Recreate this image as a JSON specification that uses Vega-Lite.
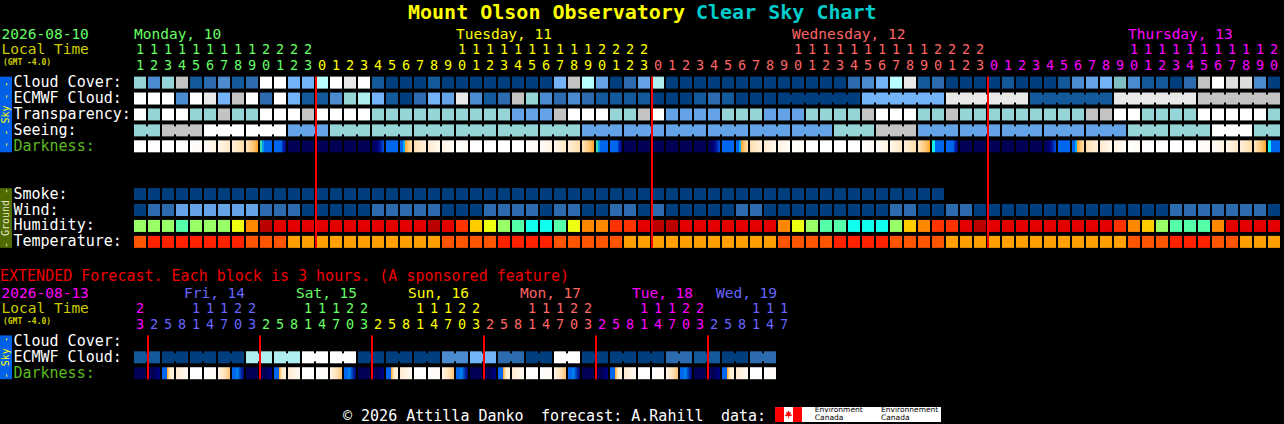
{"$schema":"https://vega.github.io/schema/vega-lite/v6.json","width":1284,"height":424,"autosize":{"type":"fit","contains":"padding"},"padding":0,"background":"#000000","config":{"view":{"stroke":null},"axis":{"disable":true},"text":{"align":"left","baseline":"middle","font":"DejaVu Sans Mono","fontSize":15,"color":"#FFFFFF","dy":1.5}},
"datasets":{"cells":[
{"row":0,"col":0,"v":"c6"},{"row":0,"col":1,"v":"c3"},{"row":0,"col":2,"v":"c6"},{"row":0,"col":3,"v":"c8"},{"row":0,"col":4,"v":"c1"},{"row":0,"col":5,"v":"c2"},{"row":0,"col":6,"v":"c3"},{"row":0,"col":7,"v":"c1"},{"row":0,"col":8,"v":"c2"},{"row":0,"col":9,"v":"W"},{"row":0,"col":10,"v":"W"},{"row":0,"col":11,"v":"c5"},{"row":0,"col":12,"v":"c5"},{"row":0,"col":13,"v":"cy"},{"row":0,"col":14,"v":"W"},{"row":0,"col":15,"v":"c9"},{"row":0,"col":16,"v":"W"},{"row":0,"col":17,"v":"c1"},{"row":0,"col":18,"v":"c0"},{"row":0,"col":19,"v":"c0"},{"row":0,"col":20,"v":"c0"},{"row":0,"col":21,"v":"c1"},{"row":0,"col":22,"v":"c0"},{"row":0,"col":23,"v":"c0"},{"row":0,"col":24,"v":"c0"},{"row":0,"col":25,"v":"c0"},{"row":0,"col":26,"v":"c0"},{"row":0,"col":27,"v":"c0"},{"row":0,"col":28,"v":"c0"},{"row":0,"col":29,"v":"c0"},{"row":0,"col":30,"v":"c5"},{"row":0,"col":31,"v":"c8"},{"row":0,"col":32,"v":"cy"},{"row":0,"col":33,"v":"c4"},{"row":0,"col":34,"v":"c0"},{"row":0,"col":35,"v":"c2"},{"row":0,"col":36,"v":"c4"},{"row":0,"col":37,"v":"c7"},{"row":0,"col":38,"v":"c0"},{"row":0,"col":39,"v":"c0"},{"row":0,"col":40,"v":"c0"},{"row":0,"col":41,"v":"c0"},{"row":0,"col":42,"v":"c0"},{"row":0,"col":43,"v":"c0"},{"row":0,"col":44,"v":"c0"},{"row":0,"col":45,"v":"c0"},{"row":0,"col":46,"v":"c0"},{"row":0,"col":47,"v":"c0"},{"row":0,"col":48,"v":"c0"},{"row":0,"col":49,"v":"c0"},{"row":0,"col":50,"v":"c0"},{"row":0,"col":51,"v":"c2"},{"row":0,"col":52,"v":"c3"},{"row":0,"col":53,"v":"c5"},{"row":0,"col":54,"v":"cy"},{"row":0,"col":55,"v":"c9"},{"row":0,"col":56,"v":"c1"},{"row":0,"col":57,"v":"c2"},{"row":0,"col":58,"v":"c0"},{"row":0,"col":59,"v":"c0"},{"row":0,"col":60,"v":"c0"},{"row":0,"col":61,"v":"c0"},{"row":0,"col":62,"v":"c1"},{"row":0,"col":63,"v":"c0"},{"row":0,"col":64,"v":"c0"},{"row":0,"col":65,"v":"c0"},{"row":0,"col":66,"v":"c1"},{"row":0,"col":67,"v":"c3"},{"row":0,"col":68,"v":"c4"},{"row":0,"col":69,"v":"c5"},{"row":0,"col":70,"v":"dt"},{"row":0,"col":71,"v":"c3"},{"row":0,"col":72,"v":"c1"},{"row":0,"col":73,"v":"c1"},{"row":0,"col":74,"v":"c0"},{"row":0,"col":75,"v":"c2"},{"row":0,"col":76,"v":"c8"},{"row":0,"col":77,"v":"W"},{"row":0,"col":78,"v":"g9"},{"row":0,"col":79,"v":"g9"},{"row":0,"col":80,"v":"c3"},{"row":0,"col":81,"v":"c0"},
{"row":1,"col":0,"v":"W"},{"row":1,"col":1,"v":"W"},{"row":1,"col":2,"v":"W"},{"row":1,"col":3,"v":"c3"},{"row":1,"col":4,"v":"W"},{"row":1,"col":5,"v":"c9"},{"row":1,"col":6,"v":"c5"},{"row":1,"col":7,"v":"c8"},{"row":1,"col":8,"v":"W"},{"row":1,"col":9,"v":"c2"},{"row":1,"col":10,"v":"W"},{"row":1,"col":11,"v":"c5"},{"row":1,"col":12,"v":"c1"},{"row":1,"col":13,"v":"c1"},{"row":1,"col":14,"v":"c3"},{"row":1,"col":15,"v":"c6"},{"row":1,"col":16,"v":"c7"},{"row":1,"col":17,"v":"c5"},{"row":1,"col":18,"v":"c1"},{"row":1,"col":19,"v":"c0"},{"row":1,"col":20,"v":"c2"},{"row":1,"col":21,"v":"c5"},{"row":1,"col":22,"v":"c4"},{"row":1,"col":23,"v":"c9"},{"row":1,"col":24,"v":"c3"},{"row":1,"col":25,"v":"c1"},{"row":1,"col":26,"v":"c2"},{"row":1,"col":27,"v":"c8"},{"row":1,"col":28,"v":"c6"},{"row":1,"col":29,"v":"c3"},{"row":1,"col":30,"v":"c2"},{"row":1,"col":31,"v":"c3"},{"row":1,"col":32,"v":"c2"},{"row":1,"col":33,"v":"c1"},{"row":1,"col":34,"v":"c1"},{"row":1,"col":35,"v":"c1"},{"row":1,"col":36,"v":"c1"},{"row":1,"col":37,"v":"c0"},{"row":1,"col":38,"v":"c0"},{"row":1,"col":39,"v":"c0"},{"row":1,"col":40,"v":"c1"},{"row":1,"col":41,"v":"c2"},{"row":1,"col":42,"v":"c1"},{"row":1,"col":43,"v":"c0"},{"row":1,"col":44,"v":"c0"},{"row":1,"col":45,"v":"c0"},
{"row":1,"col":46,"v":"c0","link":1},{"row":1,"col":47,"v":"c0","link":1},{"row":1,"col":48,"v":"c0","link":1},{"row":1,"col":49,"v":"c0","link":1},{"row":1,"col":50,"v":"c0","link":1},{"row":1,"col":51,"v":"c0"},{"row":1,"col":52,"v":"c5","link":1},{"row":1,"col":53,"v":"c5","link":1},{"row":1,"col":54,"v":"c5","link":1},{"row":1,"col":55,"v":"c5","link":1},{"row":1,"col":56,"v":"c5","link":1},{"row":1,"col":57,"v":"c5"},{"row":1,"col":58,"v":"c9","link":1},{"row":1,"col":59,"v":"c9","link":1},{"row":1,"col":60,"v":"c9","link":1},{"row":1,"col":61,"v":"c9","link":1},{"row":1,"col":62,"v":"c9","link":1},{"row":1,"col":63,"v":"c9"},{"row":1,"col":64,"v":"c1","link":1},{"row":1,"col":65,"v":"c1","link":1},{"row":1,"col":66,"v":"c1","link":1},{"row":1,"col":67,"v":"c1","link":1},{"row":1,"col":68,"v":"c1","link":1},{"row":1,"col":69,"v":"c1"},{"row":1,"col":70,"v":"c9","link":1},{"row":1,"col":71,"v":"c9","link":1},{"row":1,"col":72,"v":"c9","link":1},{"row":1,"col":73,"v":"c9","link":1},{"row":1,"col":74,"v":"c9","link":1},{"row":1,"col":75,"v":"c9"},{"row":1,"col":76,"v":"c8","link":1},{"row":1,"col":77,"v":"c8","link":1},{"row":1,"col":78,"v":"c8","link":1},{"row":1,"col":79,"v":"c8","link":1},{"row":1,"col":80,"v":"c8","link":1},{"row":1,"col":81,"v":"c8"},
{"row":2,"col":0,"v":"W"},{"row":2,"col":1,"v":"c6"},{"row":2,"col":2,"v":"W"},{"row":2,"col":3,"v":"W"},{"row":2,"col":4,"v":"c6"},{"row":2,"col":5,"v":"c6"},{"row":2,"col":6,"v":"c8"},{"row":2,"col":7,"v":"c6"},{"row":2,"col":8,"v":"c6"},{"row":2,"col":9,"v":"W"},{"row":2,"col":10,"v":"W"},{"row":2,"col":11,"v":"W"},{"row":2,"col":12,"v":"c8"},{"row":2,"col":13,"v":"W"},{"row":2,"col":14,"v":"W"},{"row":2,"col":15,"v":"W"},{"row":2,"col":16,"v":"W"},{"row":2,"col":17,"v":"c6"},{"row":2,"col":18,"v":"c6"},{"row":2,"col":19,"v":"c6"},{"row":2,"col":20,"v":"c6"},{"row":2,"col":21,"v":"c6"},{"row":2,"col":22,"v":"c6"},{"row":2,"col":23,"v":"c6"},{"row":2,"col":24,"v":"c6"},{"row":2,"col":25,"v":"c6"},{"row":2,"col":26,"v":"c6"},{"row":2,"col":27,"v":"c4"},{"row":2,"col":28,"v":"c4"},{"row":2,"col":29,"v":"c4"},{"row":2,"col":30,"v":"c8"},{"row":2,"col":31,"v":"W"},{"row":2,"col":32,"v":"W"},{"row":2,"col":33,"v":"W"},{"row":2,"col":34,"v":"c6"},{"row":2,"col":35,"v":"c6"},{"row":2,"col":36,"v":"c8"},{"row":2,"col":37,"v":"W"},{"row":2,"col":38,"v":"c4"},{"row":2,"col":39,"v":"c4"},{"row":2,"col":40,"v":"c4"},{"row":2,"col":41,"v":"c4"},{"row":2,"col":42,"v":"c6"},{"row":2,"col":43,"v":"c6"},{"row":2,"col":44,"v":"c6"},{"row":2,"col":45,"v":"c4"},{"row":2,"col":46,"v":"c4"},{"row":2,"col":47,"v":"c4"},{"row":2,"col":48,"v":"c6"},{"row":2,"col":49,"v":"c6"},{"row":2,"col":50,"v":"c6"},{"row":2,"col":51,"v":"c6"},{"row":2,"col":52,"v":"c8"},{"row":2,"col":53,"v":"W"},{"row":2,"col":54,"v":"W"},{"row":2,"col":55,"v":"W"},{"row":2,"col":56,"v":"c6"},{"row":2,"col":57,"v":"c6"},{"row":2,"col":58,"v":"c8"},{"row":2,"col":59,"v":"c6"},{"row":2,"col":60,"v":"c6"},{"row":2,"col":61,"v":"c6"},{"row":2,"col":62,"v":"c6"},{"row":2,"col":63,"v":"c6"},{"row":2,"col":64,"v":"c6"},{"row":2,"col":65,"v":"c6"},{"row":2,"col":66,"v":"c6"},{"row":2,"col":67,"v":"c6"},{"row":2,"col":68,"v":"c8"},{"row":2,"col":69,"v":"c8"},{"row":2,"col":70,"v":"W"},{"row":2,"col":71,"v":"W"},{"row":2,"col":72,"v":"c6"},{"row":2,"col":73,"v":"c6"},{"row":2,"col":74,"v":"c6"},{"row":2,"col":75,"v":"c6"},{"row":2,"col":76,"v":"W"},{"row":2,"col":77,"v":"W"},{"row":2,"col":78,"v":"W"},{"row":2,"col":79,"v":"W"},{"row":2,"col":80,"v":"W"},{"row":2,"col":81,"v":"c6"},
{"row":3,"col":0,"v":"c6","link":1},{"row":3,"col":1,"v":"c6"},{"row":3,"col":2,"v":"c8","link":1},{"row":3,"col":3,"v":"c8","link":1},{"row":3,"col":4,"v":"c8"},{"row":3,"col":5,"v":"W","link":1},{"row":3,"col":6,"v":"W","link":1},{"row":3,"col":7,"v":"W"},{"row":3,"col":8,"v":"W","link":1},{"row":3,"col":9,"v":"W","link":1},{"row":3,"col":10,"v":"W"},{"row":3,"col":11,"v":"c4","link":1},{"row":3,"col":12,"v":"c4","link":1},{"row":3,"col":13,"v":"c4"},{"row":3,"col":14,"v":"c6","link":1},{"row":3,"col":15,"v":"c6","link":1},{"row":3,"col":16,"v":"c6"},{"row":3,"col":17,"v":"c6","link":1},{"row":3,"col":18,"v":"c6","link":1},{"row":3,"col":19,"v":"c6"},{"row":3,"col":20,"v":"c6","link":1},{"row":3,"col":21,"v":"c6","link":1},{"row":3,"col":22,"v":"c6"},{"row":3,"col":23,"v":"c6","link":1},{"row":3,"col":24,"v":"c6","link":1},{"row":3,"col":25,"v":"c6"},{"row":3,"col":26,"v":"c6","link":1},{"row":3,"col":27,"v":"c6","link":1},{"row":3,"col":28,"v":"c6"},{"row":3,"col":29,"v":"c6","link":1},{"row":3,"col":30,"v":"c6","link":1},{"row":3,"col":31,"v":"c6"},{"row":3,"col":32,"v":"c4","link":1},{"row":3,"col":33,"v":"c4","link":1},{"row":3,"col":34,"v":"c4"},{"row":3,"col":35,"v":"c4","link":1},{"row":3,"col":36,"v":"c4","link":1},{"row":3,"col":37,"v":"c4"},{"row":3,"col":38,"v":"c4","link":1},{"row":3,"col":39,"v":"c4","link":1},{"row":3,"col":40,"v":"c4"},{"row":3,"col":41,"v":"c4","link":1},{"row":3,"col":42,"v":"c4","link":1},{"row":3,"col":43,"v":"c4"},{"row":3,"col":44,"v":"c4","link":1},{"row":3,"col":45,"v":"c4","link":1},{"row":3,"col":46,"v":"c4"},{"row":3,"col":47,"v":"c4","link":1},{"row":3,"col":48,"v":"c4","link":1},{"row":3,"col":49,"v":"c4"},{"row":3,"col":50,"v":"c6","link":1},{"row":3,"col":51,"v":"c6","link":1},{"row":3,"col":52,"v":"c6"},{"row":3,"col":53,"v":"c8","link":1},{"row":3,"col":54,"v":"c8","link":1},{"row":3,"col":55,"v":"c8"},{"row":3,"col":56,"v":"c4","link":1},{"row":3,"col":57,"v":"c4","link":1},{"row":3,"col":58,"v":"c4"},{"row":3,"col":59,"v":"c4","link":1},{"row":3,"col":60,"v":"c4","link":1},{"row":3,"col":61,"v":"c4"},{"row":3,"col":62,"v":"c4","link":1},{"row":3,"col":63,"v":"c4","link":1},{"row":3,"col":64,"v":"c4"},{"row":3,"col":65,"v":"c4","link":1},{"row":3,"col":66,"v":"c4","link":1},{"row":3,"col":67,"v":"c4"},{"row":3,"col":68,"v":"c4","link":1},{"row":3,"col":69,"v":"c4","link":1},{"row":3,"col":70,"v":"c4"},{"row":3,"col":71,"v":"c6","link":1},{"row":3,"col":72,"v":"c6","link":1},{"row":3,"col":73,"v":"c6"},{"row":3,"col":74,"v":"c6","link":1},{"row":3,"col":75,"v":"c6","link":1},{"row":3,"col":76,"v":"c6"},{"row":3,"col":77,"v":"W","link":1},{"row":3,"col":78,"v":"W","link":1},{"row":3,"col":79,"v":"W"},{"row":3,"col":80,"v":"c6","link":1},{"row":3,"col":81,"v":"c6"},
{"row":4,"col":0,"v":"W"},{"row":4,"col":1,"v":"W"},{"row":4,"col":2,"v":"W"},{"row":4,"col":3,"v":"W"},{"row":4,"col":4,"v":"dF"},{"row":4,"col":5,"v":"d1"},{"row":4,"col":6,"v":"d2"},{"row":4,"col":7,"v":"d3"},{"row":4,"col":8,"v":"d4"},{"row":4,"col":9,"v":"de1"},{"row":4,"col":10,"v":"dbn"},{"row":4,"col":11,"v":"dn"},{"row":4,"col":12,"v":"dn"},{"row":4,"col":13,"v":"dn"},{"row":4,"col":14,"v":"dn"},{"row":4,"col":15,"v":"dn"},{"row":4,"col":16,"v":"dn"},{"row":4,"col":17,"v":"dm"},{"row":4,"col":18,"v":"db"},{"row":4,"col":19,"v":"da"},{"row":4,"col":20,"v":"r3"},{"row":4,"col":21,"v":"r2"},{"row":4,"col":22,"v":"r1"},{"row":4,"col":23,"v":"dF"},{"row":4,"col":24,"v":"W"},{"row":4,"col":25,"v":"W"},{"row":4,"col":26,"v":"W"},{"row":4,"col":27,"v":"W"},{"row":4,"col":28,"v":"dF"},{"row":4,"col":29,"v":"d1"},{"row":4,"col":30,"v":"d2"},{"row":4,"col":31,"v":"d3"},{"row":4,"col":32,"v":"d4"},{"row":4,"col":33,"v":"de1"},{"row":4,"col":34,"v":"dbn"},{"row":4,"col":35,"v":"dn"},{"row":4,"col":36,"v":"dn"},{"row":4,"col":37,"v":"dn"},{"row":4,"col":38,"v":"dn"},{"row":4,"col":39,"v":"dn"},{"row":4,"col":40,"v":"dn"},{"row":4,"col":41,"v":"dm"},{"row":4,"col":42,"v":"db"},{"row":4,"col":43,"v":"da"},{"row":4,"col":44,"v":"r3"},{"row":4,"col":45,"v":"r2"},{"row":4,"col":46,"v":"r1"},{"row":4,"col":47,"v":"dF"},{"row":4,"col":48,"v":"W"},{"row":4,"col":49,"v":"W"},{"row":4,"col":50,"v":"W"},{"row":4,"col":51,"v":"W"},{"row":4,"col":52,"v":"dF"},{"row":4,"col":53,"v":"d1"},{"row":4,"col":54,"v":"d2"},{"row":4,"col":55,"v":"d3"},{"row":4,"col":56,"v":"d4"},{"row":4,"col":57,"v":"de2"},{"row":4,"col":58,"v":"dbn"},{"row":4,"col":59,"v":"dn"},{"row":4,"col":60,"v":"dn"},{"row":4,"col":61,"v":"dn"},{"row":4,"col":62,"v":"dn"},{"row":4,"col":63,"v":"dn"},{"row":4,"col":64,"v":"dn"},{"row":4,"col":65,"v":"dm"},{"row":4,"col":66,"v":"db"},{"row":4,"col":67,"v":"da"},{"row":4,"col":68,"v":"r3"},{"row":4,"col":69,"v":"r2"},{"row":4,"col":70,"v":"r1"},{"row":4,"col":71,"v":"dF"},{"row":4,"col":72,"v":"W"},{"row":4,"col":73,"v":"W"},{"row":4,"col":74,"v":"W"},{"row":4,"col":75,"v":"W"},{"row":4,"col":76,"v":"dF"},{"row":4,"col":77,"v":"d1"},{"row":4,"col":78,"v":"d2"},{"row":4,"col":79,"v":"d3"},{"row":4,"col":80,"v":"d4"},{"row":4,"col":81,"v":"de2"},
{"row":7,"col":0,"v":"c0"},{"row":7,"col":1,"v":"c0"},{"row":7,"col":2,"v":"c0"},{"row":7,"col":3,"v":"c0"},{"row":7,"col":4,"v":"c0"},{"row":7,"col":5,"v":"c0"},{"row":7,"col":6,"v":"c0"},{"row":7,"col":7,"v":"c0"},{"row":7,"col":8,"v":"c0"},{"row":7,"col":9,"v":"c0"},{"row":7,"col":10,"v":"c0"},{"row":7,"col":11,"v":"c0"},{"row":7,"col":12,"v":"c0"},{"row":7,"col":13,"v":"c0"},{"row":7,"col":14,"v":"c0"},{"row":7,"col":15,"v":"c0"},{"row":7,"col":16,"v":"c0"},{"row":7,"col":17,"v":"c0"},{"row":7,"col":18,"v":"c0"},{"row":7,"col":19,"v":"c0"},{"row":7,"col":20,"v":"c0"},{"row":7,"col":21,"v":"c0"},{"row":7,"col":22,"v":"c0"},{"row":7,"col":23,"v":"c0"},{"row":7,"col":24,"v":"c0"},{"row":7,"col":25,"v":"c0"},{"row":7,"col":26,"v":"c0"},{"row":7,"col":27,"v":"c0"},{"row":7,"col":28,"v":"c0"},{"row":7,"col":29,"v":"c0"},{"row":7,"col":30,"v":"c0"},{"row":7,"col":31,"v":"c0"},{"row":7,"col":32,"v":"c0"},{"row":7,"col":33,"v":"c0"},{"row":7,"col":34,"v":"c0"},{"row":7,"col":35,"v":"c0"},{"row":7,"col":36,"v":"c0"},{"row":7,"col":37,"v":"c0"},{"row":7,"col":38,"v":"c0"},{"row":7,"col":39,"v":"c0"},{"row":7,"col":40,"v":"c0"},{"row":7,"col":41,"v":"c0"},{"row":7,"col":42,"v":"c0"},{"row":7,"col":43,"v":"c0"},{"row":7,"col":44,"v":"c0"},{"row":7,"col":45,"v":"c0"},{"row":7,"col":46,"v":"c0"},{"row":7,"col":47,"v":"c0"},{"row":7,"col":48,"v":"c0"},{"row":7,"col":49,"v":"c0"},{"row":7,"col":50,"v":"c0"},{"row":7,"col":51,"v":"c0"},{"row":7,"col":52,"v":"c0"},{"row":7,"col":53,"v":"c0"},{"row":7,"col":54,"v":"c0"},{"row":7,"col":55,"v":"c0"},{"row":7,"col":56,"v":"c0"},{"row":7,"col":57,"v":"c0"},
{"row":8,"col":0,"v":"c0"},{"row":8,"col":1,"v":"c2"},{"row":8,"col":2,"v":"c2"},{"row":8,"col":3,"v":"c4"},{"row":8,"col":4,"v":"c4"},{"row":8,"col":5,"v":"c4"},{"row":8,"col":6,"v":"c4"},{"row":8,"col":7,"v":"c4"},{"row":8,"col":8,"v":"c4"},{"row":8,"col":9,"v":"c2"},{"row":8,"col":10,"v":"c2"},{"row":8,"col":11,"v":"c2"},{"row":8,"col":12,"v":"c0"},{"row":8,"col":13,"v":"c0"},{"row":8,"col":14,"v":"c0"},{"row":8,"col":15,"v":"c0"},{"row":8,"col":16,"v":"c0"},{"row":8,"col":17,"v":"c2"},{"row":8,"col":18,"v":"c2"},{"row":8,"col":19,"v":"c2"},{"row":8,"col":20,"v":"c2"},{"row":8,"col":21,"v":"c2"},{"row":8,"col":22,"v":"c0"},{"row":8,"col":23,"v":"c0"},{"row":8,"col":24,"v":"c0"},{"row":8,"col":25,"v":"c2"},{"row":8,"col":26,"v":"c2"},{"row":8,"col":27,"v":"c2"},{"row":8,"col":28,"v":"c2"},{"row":8,"col":29,"v":"c0"},{"row":8,"col":30,"v":"c2"},{"row":8,"col":31,"v":"c2"},{"row":8,"col":32,"v":"c0"},{"row":8,"col":33,"v":"c0"},{"row":8,"col":34,"v":"c2"},{"row":8,"col":35,"v":"c2"},{"row":8,"col":36,"v":"c0"},{"row":8,"col":37,"v":"c2"},{"row":8,"col":38,"v":"c0"},{"row":8,"col":39,"v":"c0"},{"row":8,"col":40,"v":"c0"},{"row":8,"col":41,"v":"c0"},{"row":8,"col":42,"v":"c0"},{"row":8,"col":43,"v":"c2"},{"row":8,"col":44,"v":"c2"},{"row":8,"col":45,"v":"c0"},{"row":8,"col":46,"v":"c0"},{"row":8,"col":47,"v":"c0"},{"row":8,"col":48,"v":"c0"},{"row":8,"col":49,"v":"c0"},{"row":8,"col":50,"v":"c0"},{"row":8,"col":51,"v":"c0"},{"row":8,"col":52,"v":"c0"},{"row":8,"col":53,"v":"c0"},{"row":8,"col":54,"v":"c2"},{"row":8,"col":55,"v":"c2"},{"row":8,"col":56,"v":"c0"},{"row":8,"col":57,"v":"c0"},{"row":8,"col":58,"v":"c2"},{"row":8,"col":59,"v":"c2"},{"row":8,"col":60,"v":"c0"},{"row":8,"col":61,"v":"c0"},{"row":8,"col":62,"v":"c0"},{"row":8,"col":63,"v":"c0"},{"row":8,"col":64,"v":"c0"},{"row":8,"col":65,"v":"c0"},{"row":8,"col":66,"v":"c0"},{"row":8,"col":67,"v":"c0"},{"row":8,"col":68,"v":"c0"},{"row":8,"col":69,"v":"c0"},{"row":8,"col":70,"v":"c0"},{"row":8,"col":71,"v":"c0"},{"row":8,"col":72,"v":"c0"},{"row":8,"col":73,"v":"c0"},{"row":8,"col":74,"v":"c2"},{"row":8,"col":75,"v":"c2"},{"row":8,"col":76,"v":"c2"},{"row":8,"col":77,"v":"c2"},{"row":8,"col":78,"v":"c2"},{"row":8,"col":79,"v":"c2"},{"row":8,"col":80,"v":"c2"},{"row":8,"col":81,"v":"c0"},
{"row":9,"col":0,"v":"hg"},{"row":9,"col":1,"v":"hg"},{"row":9,"col":2,"v":"hg"},{"row":9,"col":3,"v":"hm"},{"row":9,"col":4,"v":"hg"},{"row":9,"col":5,"v":"hg"},{"row":9,"col":6,"v":"hg"},{"row":9,"col":7,"v":"hy"},{"row":9,"col":8,"v":"ho"},{"row":9,"col":9,"v":"hd"},{"row":9,"col":10,"v":"hr"},{"row":9,"col":11,"v":"hr"},{"row":9,"col":12,"v":"hr"},{"row":9,"col":13,"v":"hr"},{"row":9,"col":14,"v":"hr"},{"row":9,"col":15,"v":"hr"},{"row":9,"col":16,"v":"hr"},{"row":9,"col":17,"v":"hr"},{"row":9,"col":18,"v":"hr"},{"row":9,"col":19,"v":"hr"},{"row":9,"col":20,"v":"hr"},{"row":9,"col":21,"v":"hd"},{"row":9,"col":22,"v":"hr"},{"row":9,"col":23,"v":"hf"},{"row":9,"col":24,"v":"ha"},{"row":9,"col":25,"v":"hy"},{"row":9,"col":26,"v":"hg"},{"row":9,"col":27,"v":"hm"},{"row":9,"col":28,"v":"hc"},{"row":9,"col":29,"v":"hc"},{"row":9,"col":30,"v":"hm"},{"row":9,"col":31,"v":"hy"},{"row":9,"col":32,"v":"ho"},{"row":9,"col":33,"v":"ho"},{"row":9,"col":34,"v":"hf"},{"row":9,"col":35,"v":"hf"},{"row":9,"col":36,"v":"hr"},{"row":9,"col":37,"v":"hd"},{"row":9,"col":38,"v":"hd"},{"row":9,"col":39,"v":"hr"},{"row":9,"col":40,"v":"hr"},{"row":9,"col":41,"v":"hr"},{"row":9,"col":42,"v":"hr"},{"row":9,"col":43,"v":"hr"},{"row":9,"col":44,"v":"hr"},{"row":9,"col":45,"v":"hr"},{"row":9,"col":46,"v":"ho"},{"row":9,"col":47,"v":"hy"},{"row":9,"col":48,"v":"hg"},{"row":9,"col":49,"v":"hm"},{"row":9,"col":50,"v":"hm"},{"row":9,"col":51,"v":"hc"},{"row":9,"col":52,"v":"hc"},{"row":9,"col":53,"v":"hc"},{"row":9,"col":54,"v":"hg"},{"row":9,"col":55,"v":"ha"},{"row":9,"col":56,"v":"ho"},{"row":9,"col":57,"v":"hf"},{"row":9,"col":58,"v":"hf"},{"row":9,"col":59,"v":"hr"},{"row":9,"col":60,"v":"hd"},{"row":9,"col":61,"v":"hr"},{"row":9,"col":62,"v":"hr"},{"row":9,"col":63,"v":"hr"},{"row":9,"col":64,"v":"hr"},{"row":9,"col":65,"v":"hr"},{"row":9,"col":66,"v":"hr"},{"row":9,"col":67,"v":"hr"},{"row":9,"col":68,"v":"hr"},{"row":9,"col":69,"v":"hr"},{"row":9,"col":70,"v":"hf"},{"row":9,"col":71,"v":"ho"},{"row":9,"col":72,"v":"ha"},{"row":9,"col":73,"v":"hg"},{"row":9,"col":74,"v":"hm"},{"row":9,"col":75,"v":"hm"},{"row":9,"col":76,"v":"hm"},{"row":9,"col":77,"v":"ho"},{"row":9,"col":78,"v":"hr"},{"row":9,"col":79,"v":"hr"},{"row":9,"col":80,"v":"hr"},{"row":9,"col":81,"v":"hr"},
{"row":10,"col":0,"v":"T1"},{"row":10,"col":1,"v":"T2"},{"row":10,"col":2,"v":"T2"},{"row":10,"col":3,"v":"T2"},{"row":10,"col":4,"v":"T2"},{"row":10,"col":5,"v":"T2"},{"row":10,"col":6,"v":"T2"},{"row":10,"col":7,"v":"T2"},{"row":10,"col":8,"v":"T1"},{"row":10,"col":9,"v":"T1"},{"row":10,"col":10,"v":"T1"},{"row":10,"col":11,"v":"T3"},{"row":10,"col":12,"v":"T3"},{"row":10,"col":13,"v":"T3"},{"row":10,"col":14,"v":"T3"},{"row":10,"col":15,"v":"T3"},{"row":10,"col":16,"v":"T3"},{"row":10,"col":17,"v":"T3"},{"row":10,"col":18,"v":"T3"},{"row":10,"col":19,"v":"T3"},{"row":10,"col":20,"v":"T3"},{"row":10,"col":21,"v":"T3"},{"row":10,"col":22,"v":"T1"},{"row":10,"col":23,"v":"T1"},{"row":10,"col":24,"v":"T1"},{"row":10,"col":25,"v":"T1"},{"row":10,"col":26,"v":"T2"},{"row":10,"col":27,"v":"T2"},{"row":10,"col":28,"v":"T2"},{"row":10,"col":29,"v":"T2"},{"row":10,"col":30,"v":"T1"},{"row":10,"col":31,"v":"T1"},{"row":10,"col":32,"v":"T1"},{"row":10,"col":33,"v":"T1"},{"row":10,"col":34,"v":"T1"},{"row":10,"col":35,"v":"T3"},{"row":10,"col":36,"v":"T3"},{"row":10,"col":37,"v":"T3"},{"row":10,"col":38,"v":"T3"},{"row":10,"col":39,"v":"T3"},{"row":10,"col":40,"v":"T3"},{"row":10,"col":41,"v":"T3"},{"row":10,"col":42,"v":"T3"},{"row":10,"col":43,"v":"T3"},{"row":10,"col":44,"v":"T3"},{"row":10,"col":45,"v":"T3"},{"row":10,"col":46,"v":"T1"},{"row":10,"col":47,"v":"T1"},{"row":10,"col":48,"v":"T1"},{"row":10,"col":49,"v":"T1"},{"row":10,"col":50,"v":"T2"},{"row":10,"col":51,"v":"T2"},{"row":10,"col":52,"v":"T2"},{"row":10,"col":53,"v":"T2"},{"row":10,"col":54,"v":"T1"},{"row":10,"col":55,"v":"T1"},{"row":10,"col":56,"v":"T1"},{"row":10,"col":57,"v":"T1"},{"row":10,"col":58,"v":"T3"},{"row":10,"col":59,"v":"T3"},{"row":10,"col":60,"v":"T3"},{"row":10,"col":61,"v":"T3"},{"row":10,"col":62,"v":"T3"},{"row":10,"col":63,"v":"T3"},{"row":10,"col":64,"v":"T3"},{"row":10,"col":65,"v":"T3"},{"row":10,"col":66,"v":"T3"},{"row":10,"col":67,"v":"T3"},{"row":10,"col":68,"v":"T3"},{"row":10,"col":69,"v":"T3"},{"row":10,"col":70,"v":"T3"},{"row":10,"col":71,"v":"T1"},{"row":10,"col":72,"v":"T1"},{"row":10,"col":73,"v":"T1"},{"row":10,"col":74,"v":"T2"},{"row":10,"col":75,"v":"T2"},{"row":10,"col":76,"v":"T2"},{"row":10,"col":77,"v":"T1"},{"row":10,"col":78,"v":"T1"},{"row":10,"col":79,"v":"T3"},{"row":10,"col":80,"v":"T3"},{"row":10,"col":81,"v":"T3"},
{"row":17.25,"col":0,"v":"c1","link":1},{"row":17.25,"col":1,"v":"c1"},{"row":17.25,"col":2,"v":"c0","link":1},{"row":17.25,"col":3,"v":"c0"},{"row":17.25,"col":4,"v":"c0","link":1},{"row":17.25,"col":5,"v":"c0"},{"row":17.25,"col":6,"v":"c0","link":1},{"row":17.25,"col":7,"v":"c0"},{"row":17.25,"col":8,"v":"c7","link":1},{"row":17.25,"col":9,"v":"c7"},{"row":17.25,"col":10,"v":"c7","link":1},{"row":17.25,"col":11,"v":"c7"},{"row":17.25,"col":12,"v":"W","link":1},{"row":17.25,"col":13,"v":"W"},{"row":17.25,"col":14,"v":"W","link":1},{"row":17.25,"col":15,"v":"W"},{"row":17.25,"col":16,"v":"c0","link":1},{"row":17.25,"col":17,"v":"c0"},{"row":17.25,"col":18,"v":"c0","link":1},{"row":17.25,"col":19,"v":"c0"},{"row":17.25,"col":20,"v":"c0","link":1},{"row":17.25,"col":21,"v":"c0"},{"row":17.25,"col":22,"v":"c3","link":1},{"row":17.25,"col":23,"v":"c3"},{"row":17.25,"col":24,"v":"c5","link":1},{"row":17.25,"col":25,"v":"c5"},{"row":17.25,"col":26,"v":"c2","link":1},{"row":17.25,"col":27,"v":"c2"},{"row":17.25,"col":28,"v":"c0","link":1},{"row":17.25,"col":29,"v":"c0"},{"row":17.25,"col":30,"v":"W","link":1},{"row":17.25,"col":31,"v":"W"},{"row":17.25,"col":32,"v":"c0","link":1},{"row":17.25,"col":33,"v":"c0"},{"row":17.25,"col":34,"v":"c0","link":1},{"row":17.25,"col":35,"v":"c0"},{"row":17.25,"col":36,"v":"c0","link":1},{"row":17.25,"col":37,"v":"c0"},{"row":17.25,"col":38,"v":"c2","link":1},{"row":17.25,"col":39,"v":"c2"},{"row":17.25,"col":40,"v":"c1","link":1},{"row":17.25,"col":41,"v":"c1"},{"row":17.25,"col":42,"v":"c0","link":1},{"row":17.25,"col":43,"v":"c0"},{"row":17.25,"col":44,"v":"c2","link":1},{"row":17.25,"col":45,"v":"c2"},
{"row":18.25,"col":0,"v":"dn"},{"row":18.25,"col":1,"v":"dm2"},{"row":18.25,"col":2,"v":"xd"},{"row":18.25,"col":3,"v":"xc"},{"row":18.25,"col":4,"v":"W"},{"row":18.25,"col":5,"v":"dF"},{"row":18.25,"col":6,"v":"xo"},{"row":18.25,"col":7,"v":"xe"},{"row":18.25,"col":8,"v":"dn"},{"row":18.25,"col":9,"v":"dm2"},{"row":18.25,"col":10,"v":"xd"},{"row":18.25,"col":11,"v":"xc"},{"row":18.25,"col":12,"v":"W"},{"row":18.25,"col":13,"v":"dF"},{"row":18.25,"col":14,"v":"xo"},{"row":18.25,"col":15,"v":"xe"},{"row":18.25,"col":16,"v":"dn"},{"row":18.25,"col":17,"v":"dm2"},{"row":18.25,"col":18,"v":"xd"},{"row":18.25,"col":19,"v":"xc"},{"row":18.25,"col":20,"v":"W"},{"row":18.25,"col":21,"v":"dF"},{"row":18.25,"col":22,"v":"xo"},{"row":18.25,"col":23,"v":"xe"},{"row":18.25,"col":24,"v":"dn"},{"row":18.25,"col":25,"v":"dm2"},{"row":18.25,"col":26,"v":"xd"},{"row":18.25,"col":27,"v":"xc"},{"row":18.25,"col":28,"v":"W"},{"row":18.25,"col":29,"v":"dF"},{"row":18.25,"col":30,"v":"xo"},{"row":18.25,"col":31,"v":"xe"},{"row":18.25,"col":32,"v":"dn"},{"row":18.25,"col":33,"v":"dm2"},{"row":18.25,"col":34,"v":"xd"},{"row":18.25,"col":35,"v":"xc"},{"row":18.25,"col":36,"v":"W"},{"row":18.25,"col":37,"v":"dF"},{"row":18.25,"col":38,"v":"xo"},{"row":18.25,"col":39,"v":"xe"},{"row":18.25,"col":40,"v":"dn"},{"row":18.25,"col":41,"v":"dm2"},{"row":18.25,"col":42,"v":"xd"},{"row":18.25,"col":43,"v":"xc"},{"row":18.25,"col":44,"v":"W"},{"row":18.25,"col":45,"v":"dF"}
],
"hours":[{"col":0,"day":10,"tens":"1","ones":"1"},{"col":1,"day":10,"tens":"1","ones":"2"},{"col":2,"day":10,"tens":"1","ones":"3"},{"col":3,"day":10,"tens":"1","ones":"4"},{"col":4,"day":10,"tens":"1","ones":"5"},{"col":5,"day":10,"tens":"1","ones":"6"},{"col":6,"day":10,"tens":"1","ones":"7"},{"col":7,"day":10,"tens":"1","ones":"8"},{"col":8,"day":10,"tens":"1","ones":"9"},{"col":9,"day":10,"tens":"2","ones":"0"},{"col":10,"day":10,"tens":"2","ones":"1"},{"col":11,"day":10,"tens":"2","ones":"2"},{"col":12,"day":10,"tens":"2","ones":"3"},
{"col":13,"day":11,"ones":"0"},{"col":14,"day":11,"ones":"1"},{"col":15,"day":11,"ones":"2"},{"col":16,"day":11,"ones":"3"},{"col":17,"day":11,"ones":"4"},{"col":18,"day":11,"ones":"5"},{"col":19,"day":11,"ones":"6"},{"col":20,"day":11,"ones":"7"},{"col":21,"day":11,"ones":"8"},{"col":22,"day":11,"ones":"9"},{"col":23,"day":11,"tens":"1","ones":"0"},{"col":24,"day":11,"tens":"1","ones":"1"},{"col":25,"day":11,"tens":"1","ones":"2"},{"col":26,"day":11,"tens":"1","ones":"3"},{"col":27,"day":11,"tens":"1","ones":"4"},{"col":28,"day":11,"tens":"1","ones":"5"},{"col":29,"day":11,"tens":"1","ones":"6"},{"col":30,"day":11,"tens":"1","ones":"7"},{"col":31,"day":11,"tens":"1","ones":"8"},{"col":32,"day":11,"tens":"1","ones":"9"},{"col":33,"day":11,"tens":"2","ones":"0"},{"col":34,"day":11,"tens":"2","ones":"1"},{"col":35,"day":11,"tens":"2","ones":"2"},{"col":36,"day":11,"tens":"2","ones":"3"},
{"col":37,"day":12,"ones":"0"},{"col":38,"day":12,"ones":"1"},{"col":39,"day":12,"ones":"2"},{"col":40,"day":12,"ones":"3"},{"col":41,"day":12,"ones":"4"},{"col":42,"day":12,"ones":"5"},{"col":43,"day":12,"ones":"6"},{"col":44,"day":12,"ones":"7"},{"col":45,"day":12,"ones":"8"},{"col":46,"day":12,"ones":"9"},{"col":47,"day":12,"tens":"1","ones":"0"},{"col":48,"day":12,"tens":"1","ones":"1"},{"col":49,"day":12,"tens":"1","ones":"2"},{"col":50,"day":12,"tens":"1","ones":"3"},{"col":51,"day":12,"tens":"1","ones":"4"},{"col":52,"day":12,"tens":"1","ones":"5"},{"col":53,"day":12,"tens":"1","ones":"6"},{"col":54,"day":12,"tens":"1","ones":"7"},{"col":55,"day":12,"tens":"1","ones":"8"},{"col":56,"day":12,"tens":"1","ones":"9"},{"col":57,"day":12,"tens":"2","ones":"0"},{"col":58,"day":12,"tens":"2","ones":"1"},{"col":59,"day":12,"tens":"2","ones":"2"},{"col":60,"day":12,"tens":"2","ones":"3"},
{"col":61,"day":13,"ones":"0"},{"col":62,"day":13,"ones":"1"},{"col":63,"day":13,"ones":"2"},{"col":64,"day":13,"ones":"3"},{"col":65,"day":13,"ones":"4"},{"col":66,"day":13,"ones":"5"},{"col":67,"day":13,"ones":"6"},{"col":68,"day":13,"ones":"7"},{"col":69,"day":13,"ones":"8"},{"col":70,"day":13,"ones":"9"},{"col":71,"day":13,"tens":"1","ones":"0"},{"col":72,"day":13,"tens":"1","ones":"1"},{"col":73,"day":13,"tens":"1","ones":"2"},{"col":74,"day":13,"tens":"1","ones":"3"},{"col":75,"day":13,"tens":"1","ones":"4"},{"col":76,"day":13,"tens":"1","ones":"5"},{"col":77,"day":13,"tens":"1","ones":"6"},{"col":78,"day":13,"tens":"1","ones":"7"},{"col":79,"day":13,"tens":"1","ones":"8"},{"col":80,"day":13,"tens":"1","ones":"9"},{"col":81,"day":13,"tens":"2","ones":"0"}],
"extHours":[{"col":0,"day":13,"tens":"2","ones":"3"},
{"col":1,"day":14,"ones":"2"},{"col":2,"day":14,"ones":"5"},{"col":3,"day":14,"ones":"8"},{"col":4,"day":14,"tens":"1","ones":"1"},{"col":5,"day":14,"tens":"1","ones":"4"},{"col":6,"day":14,"tens":"1","ones":"7"},{"col":7,"day":14,"tens":"2","ones":"0"},{"col":8,"day":14,"tens":"2","ones":"3"},
{"col":9,"day":15,"ones":"2"},{"col":10,"day":15,"ones":"5"},{"col":11,"day":15,"ones":"8"},{"col":12,"day":15,"tens":"1","ones":"1"},{"col":13,"day":15,"tens":"1","ones":"4"},{"col":14,"day":15,"tens":"1","ones":"7"},{"col":15,"day":15,"tens":"2","ones":"0"},{"col":16,"day":15,"tens":"2","ones":"3"},
{"col":17,"day":16,"ones":"2"},{"col":18,"day":16,"ones":"5"},{"col":19,"day":16,"ones":"8"},{"col":20,"day":16,"tens":"1","ones":"1"},{"col":21,"day":16,"tens":"1","ones":"4"},{"col":22,"day":16,"tens":"1","ones":"7"},{"col":23,"day":16,"tens":"2","ones":"0"},{"col":24,"day":16,"tens":"2","ones":"3"},
{"col":25,"day":17,"ones":"2"},{"col":26,"day":17,"ones":"5"},{"col":27,"day":17,"ones":"8"},{"col":28,"day":17,"tens":"1","ones":"1"},{"col":29,"day":17,"tens":"1","ones":"4"},{"col":30,"day":17,"tens":"1","ones":"7"},{"col":31,"day":17,"tens":"2","ones":"0"},{"col":32,"day":17,"tens":"2","ones":"3"},
{"col":33,"day":18,"ones":"2"},{"col":34,"day":18,"ones":"5"},{"col":35,"day":18,"ones":"8"},{"col":36,"day":18,"tens":"1","ones":"1"},{"col":37,"day":18,"tens":"1","ones":"4"},{"col":38,"day":18,"tens":"1","ones":"7"},{"col":39,"day":18,"tens":"2","ones":"0"},{"col":40,"day":18,"tens":"2","ones":"3"},
{"col":41,"day":19,"ones":"2"},{"col":42,"day":19,"ones":"5"},{"col":43,"day":19,"ones":"8"},{"col":44,"day":19,"tens":"1","ones":"1"},{"col":45,"day":19,"tens":"1","ones":"4"},{"col":46,"day":19,"tens":"1","ones":"7"}],
"dayLabels":[{"day":10,"label":"2026-08-10","col":-9.89,"row":-3},{"day":10,"label":"Monday, 10","col":-0.43,"row":-3},{"day":11,"label":"Tuesday, 11","col":22.57,"row":-3},{"day":12,"label":"Wednesday, 12","col":46.57,"row":-3},{"day":13,"label":"Thursday, 13","col":70.57,"row":-3},{"day":13,"label":"2026-08-13","col":-9.89,"row":13.25},{"day":14,"label":"Fri, 14","col":3.14,"row":13.25},{"day":15,"label":"Sat, 15","col":11.14,"row":13.25},{"day":16,"label":"Sun, 16","col":19.14,"row":13.25},{"day":17,"label":"Mon, 17","col":27.14,"row":13.25},{"day":18,"label":"Tue, 18","col":35.14,"row":13.25},{"day":19,"label":"Wed, 19","col":41.14,"row":13.25}],
"rowLabels":[{"label":"Cloud Cover:","row":0},{"label":"ECMWF Cloud:","row":1},{"label":"Transparency:","row":2},{"label":"Seeing:","row":3},{"label":"Smoke:","row":7},{"label":"Wind:","row":8},{"label":"Humidity:","row":9},{"label":"Temperature:","row":10},{"label":"Cloud Cover:","row":16.25},{"label":"ECMWF Cloud:","row":17.25}]},
"layer":[
{"data":{"name":"cells"},"transform":[{"filter":{"not":{"field":"v","oneOf":["dF","d1","d2","d3","d4","de1","de2","dbn","dm","dm2","da","r3","r2","r1","xd","xc","xo","xe"]}}}],"mark":{"type":"rect","width":12,"height":12},"encoding":{"x":{"field":"col","type":"quantitative","scale":{"domain":[-10,81.7143],"nice":false,"zero":false}},"y":{"field":"row","type":"quantitative","scale":{"domain":[-5.1875,21.3125],"reverse":true,"nice":false,"zero":false}},"fill":{"field":"v","type":"nominal","legend":null,"scale":{"domain":["c0","c1","c2","c3","c4","c5","c6","c7","c8","c9","g9","W","cy","dt","hg","hm","hy","ho","hd","hr","hf","ha","hc","T1","T2","T3","dn","db"],"range":["#003F7F","#135A9B","#2B6BAE","#4B8BCF","#63A3E6","#73B3F8","#95D5D5","#AFEEEE","#C3C3C3","#E9E9E9","#DCDCDC","#FFFFFF","#B8FFFF","#7FBFBF","#99FF66","#55FFAA","#EEFF11","#FF8800","#BB0000","#E50000","#FF3300","#FFCC00","#11FFEE","#FF5500","#FF2200","#FFA000","#000055","#0066EE"]}}}},
{"data":{"name":"cells"},"transform":[{"filter":"datum.link"}],"mark":{"type":"rect","width":2,"height":8,"xOffset":7},"encoding":{"x":{"field":"col","type":"quantitative"},"y":{"field":"row","type":"quantitative"},"fill":{"field":"v","type":"nominal","legend":null}}},
{"data":{"name":"cells"},"transform":[{"filter":"datum.v=='dF'"}],"mark":{"type":"rect","width":12,"height":12,"fill":{"gradient":"linear","stops":[{"offset":0,"color":"#FFFFFF"},{"offset":1,"color":"#FFFAF4"}]}},"encoding":{"x":{"field":"col","type":"quantitative"},"y":{"field":"row","type":"quantitative"}}},
{"data":{"name":"cells"},"transform":[{"filter":"datum.v=='d1'"}],"mark":{"type":"rect","width":12,"height":12,"fill":{"gradient":"linear","stops":[{"offset":0,"color":"#FFFCF8"},{"offset":1,"color":"#FFF3E2"}]}},"encoding":{"x":{"field":"col","type":"quantitative"},"y":{"field":"row","type":"quantitative"}}},
{"data":{"name":"cells"},"transform":[{"filter":"datum.v=='d2'"}],"mark":{"type":"rect","width":12,"height":12,"fill":{"gradient":"linear","stops":[{"offset":0,"color":"#FFF6EA"},{"offset":1,"color":"#FFE8C8"}]}},"encoding":{"x":{"field":"col","type":"quantitative"},"y":{"field":"row","type":"quantitative"}}},
{"data":{"name":"cells"},"transform":[{"filter":"datum.v=='d3'"}],"mark":{"type":"rect","width":12,"height":12,"fill":{"gradient":"linear","stops":[{"offset":0,"color":"#FFF0DC"},{"offset":1,"color":"#FFDCA8"}]}},"encoding":{"x":{"field":"col","type":"quantitative"},"y":{"field":"row","type":"quantitative"}}},
{"data":{"name":"cells"},"transform":[{"filter":"datum.v=='d4'"}],"mark":{"type":"rect","width":12,"height":12,"fill":{"gradient":"linear","stops":[{"offset":0,"color":"#FFE6C0"},{"offset":0.6,"color":"#FFC878"},{"offset":1,"color":"#FFA424"}]}},"encoding":{"x":{"field":"col","type":"quantitative"},"y":{"field":"row","type":"quantitative"}}},
{"data":{"name":"cells"},"transform":[{"filter":"datum.v=='de1'"}],"mark":{"type":"rect","width":12,"height":12,"fill":{"gradient":"linear","stops":[{"offset":0,"color":"#33DDAA"},{"offset":0.17,"color":"#33DDAA"},{"offset":0.17,"color":"#0099EE"},{"offset":0.3,"color":"#0099EE"},{"offset":0.3,"color":"#0066EE"},{"offset":1,"color":"#0066EE"}]}},"encoding":{"x":{"field":"col","type":"quantitative"},"y":{"field":"row","type":"quantitative"}}},
{"data":{"name":"cells"},"transform":[{"filter":"datum.v=='de2'"}],"mark":{"type":"rect","width":12,"height":12,"fill":{"gradient":"linear","stops":[{"offset":0,"color":"#11EEEE"},{"offset":0.22,"color":"#11EEEE"},{"offset":0.22,"color":"#0066EE"},{"offset":1,"color":"#0066EE"}]}},"encoding":{"x":{"field":"col","type":"quantitative"},"y":{"field":"row","type":"quantitative"}}},
{"data":{"name":"cells"},"transform":[{"filter":"datum.v=='dbn'"}],"mark":{"type":"rect","width":12,"height":12,"fill":{"gradient":"linear","stops":[{"offset":0,"color":"#0066EE"},{"offset":0.66,"color":"#0066EE"},{"offset":0.68,"color":"#0033BB"},{"offset":1,"color":"#000088"}]}},"encoding":{"x":{"field":"col","type":"quantitative"},"y":{"field":"row","type":"quantitative"}}},
{"data":{"name":"cells"},"transform":[{"filter":"datum.v=='dm'"}],"mark":{"type":"rect","width":12,"height":12,"fill":{"gradient":"linear","stops":[{"offset":0,"color":"#000055"},{"offset":0.45,"color":"#000077"},{"offset":0.75,"color":"#0022AA"},{"offset":1,"color":"#0058E0"}]}},"encoding":{"x":{"field":"col","type":"quantitative"},"y":{"field":"row","type":"quantitative"}}},
{"data":{"name":"cells"},"transform":[{"filter":"datum.v=='dm2'"}],"mark":{"type":"rect","width":12,"height":12,"fill":{"gradient":"linear","stops":[{"offset":0,"color":"#000055"},{"offset":0.5,"color":"#000055"},{"offset":1,"color":"#000088"}]}},"encoding":{"x":{"field":"col","type":"quantitative"},"y":{"field":"row","type":"quantitative"}}},
{"data":{"name":"cells"},"transform":[{"filter":"datum.v=='da'"}],"mark":{"type":"rect","width":12,"height":12,"fill":{"gradient":"linear","stops":[{"offset":0,"color":"#0066EE"},{"offset":0.22,"color":"#0066EE"},{"offset":0.25,"color":"#00AAFF"},{"offset":0.38,"color":"#00AAFF"},{"offset":0.4,"color":"#FFA020"},{"offset":0.7,"color":"#FFC878"},{"offset":1,"color":"#FFDEA8"}]}},"encoding":{"x":{"field":"col","type":"quantitative"},"y":{"field":"row","type":"quantitative"}}},
{"data":{"name":"cells"},"transform":[{"filter":"datum.v=='r3'"}],"mark":{"type":"rect","width":12,"height":12,"fill":{"gradient":"linear","stops":[{"offset":0,"color":"#FFE0B0"},{"offset":1,"color":"#FFF0DC"}]}},"encoding":{"x":{"field":"col","type":"quantitative"},"y":{"field":"row","type":"quantitative"}}},
{"data":{"name":"cells"},"transform":[{"filter":"datum.v=='r2'"}],"mark":{"type":"rect","width":12,"height":12,"fill":{"gradient":"linear","stops":[{"offset":0,"color":"#FFEAD0"},{"offset":1,"color":"#FFF8EE"}]}},"encoding":{"x":{"field":"col","type":"quantitative"},"y":{"field":"row","type":"quantitative"}}},
{"data":{"name":"cells"},"transform":[{"filter":"datum.v=='r1'"}],"mark":{"type":"rect","width":12,"height":12,"fill":{"gradient":"linear","stops":[{"offset":0,"color":"#FFF4E6"},{"offset":1,"color":"#FFFCF8"}]}},"encoding":{"x":{"field":"col","type":"quantitative"},"y":{"field":"row","type":"quantitative"}}},
{"data":{"name":"cells"},"transform":[{"filter":"datum.v=='xd'"}],"mark":{"type":"rect","width":12,"height":12,"fill":{"gradient":"linear","stops":[{"offset":0,"color":"#0066EE"},{"offset":0.42,"color":"#0066EE"},{"offset":0.45,"color":"#FFB040"},{"offset":0.65,"color":"#FFE8C8"},{"offset":1,"color":"#FFF4E6"}]}},"encoding":{"x":{"field":"col","type":"quantitative"},"y":{"field":"row","type":"quantitative"}}},
{"data":{"name":"cells"},"transform":[{"filter":"datum.v=='xc'"}],"mark":{"type":"rect","width":12,"height":12,"fill":{"gradient":"linear","stops":[{"offset":0,"color":"#FFEAD0"},{"offset":1,"color":"#FFFAF4"}]}},"encoding":{"x":{"field":"col","type":"quantitative"},"y":{"field":"row","type":"quantitative"}}},
{"data":{"name":"cells"},"transform":[{"filter":"datum.v=='xo'"}],"mark":{"type":"rect","width":12,"height":12,"fill":{"gradient":"linear","stops":[{"offset":0,"color":"#FFF6EA"},{"offset":0.6,"color":"#FFE0B0"},{"offset":1,"color":"#FFC070"}]}},"encoding":{"x":{"field":"col","type":"quantitative"},"y":{"field":"row","type":"quantitative"}}},
{"data":{"name":"cells"},"transform":[{"filter":"datum.v=='xe'"}],"mark":{"type":"rect","width":12,"height":12,"fill":{"gradient":"linear","stops":[{"offset":0,"color":"#0066EE"},{"offset":0.35,"color":"#0066EE"},{"offset":0.4,"color":"#0099EE"},{"offset":0.55,"color":"#0066DD"},{"offset":0.75,"color":"#0033AA"},{"offset":1,"color":"#000077"}]}},"encoding":{"x":{"field":"col","type":"quantitative"},"y":{"field":"row","type":"quantitative"}}},
{"data":{"values":[{"col":13},{"col":37},{"col":61}]},"mark":{"type":"rule","color":"#FF0000","strokeWidth":2,"xOffset":-6},"encoding":{"x":{"field":"col","type":"quantitative"},"y":{"datum":-0.375},"y2":{"datum":10.375}}},
{"data":{"values":[{"col":1},{"col":9},{"col":17},{"col":25},{"col":33},{"col":41}]},"mark":{"type":"rule","color":"#FF0000","strokeWidth":2,"xOffset":-6},"encoding":{"x":{"field":"col","type":"quantitative"},"y":{"datum":15.875},"y2":{"datum":18.625}}},
{"data":{"values":[{"bar":"Sky"}]},"mark":{"type":"rect","color":"#0060E8"},"encoding":{"x":{"datum":-10},"x2":{"datum":-9.143},"y":{"datum":-0.375},"y2":{"datum":4.375}}},
{"data":{"values":[{"bar":"Ground"}]},"mark":{"type":"rect","color":"#4F6A00"},"encoding":{"x":{"datum":-10},"x2":{"datum":-9.143},"y":{"datum":6.625},"y2":{"datum":10.375}}},
{"data":{"values":[{"bar":"Sky"}]},"mark":{"type":"rect","color":"#0060E8"},"encoding":{"x":{"datum":-10},"x2":{"datum":-9.143},"y":{"datum":15.875},"y2":{"datum":18.625}}},
{"data":{"values":[{"t":"- - Sky - -"}]},"mark":{"type":"text","align":"center","angle":270,"fontSize":10,"dy":0,"color":"#FFFF00"},"encoding":{"text":{"field":"t"},"x":{"datum":-9.571},"y":{"datum":2}}},
{"data":{"values":[{"t":"- Ground -"}]},"mark":{"type":"text","align":"center","angle":270,"fontSize":10,"dy":0,"color":"#E8E8C0"},"encoding":{"text":{"field":"t"},"x":{"datum":-9.571},"y":{"datum":8.5}}},
{"data":{"values":[{"t":"- Sky -"}]},"mark":{"type":"text","align":"center","angle":270,"fontSize":10,"dy":0,"color":"#FFFF00"},"encoding":{"text":{"field":"t"},"x":{"datum":-9.571},"y":{"datum":17.25}}},
{"data":{"values":[{"t":"Mount Olson Observatory"}]},"mark":{"type":"text","fontSize":20,"fontWeight":"bold","color":"#FFFF00"},"encoding":{"text":{"field":"t"},"x":{"datum":19.143},"y":{"datum":-4.4375}}},
{"data":{"values":[{"t":"Clear Sky Chart"}]},"mark":{"type":"text","fontSize":20,"fontWeight":"bold","color":"#00CCCC"},"encoding":{"text":{"field":"t"},"x":{"datum":39.714},"y":{"datum":-4.4375}}},
{"data":{"name":"dayLabels"},"mark":{"type":"text","fontSize":14.5,"dy":0},"encoding":{"text":{"field":"label"},"x":{"field":"col","type":"quantitative"},"y":{"field":"row","type":"quantitative"},"color":{"field":"day","type":"nominal","legend":null,"scale":{"domain":[10,11,12,13,14,15,16,17,18,19],"range":["#66FF66","#FFFF00","#FF6666","#FF00FF","#6666FF","#66FF66","#FFFF00","#FF6666","#FF00FF","#6666FF"]}}}},
{"data":{"name":"hours"},"transform":[{"filter":"datum.tens"}],"mark":{"type":"text","align":"center","fontSize":13.5,"dy":0.5},"encoding":{"text":{"field":"tens"},"x":{"field":"col","type":"quantitative"},"y":{"datum":-2.0625},"color":{"field":"day","type":"nominal","legend":null}}},
{"data":{"name":"hours"},"mark":{"type":"text","align":"center","fontSize":13.5},"encoding":{"text":{"field":"ones"},"x":{"field":"col","type":"quantitative"},"y":{"datum":-1.125},"color":{"field":"day","type":"nominal","legend":null}}},
{"data":{"name":"extHours"},"transform":[{"filter":"datum.tens"}],"mark":{"type":"text","align":"center","fontSize":13.5,"dy":0.5},"encoding":{"text":{"field":"tens"},"x":{"field":"col","type":"quantitative"},"y":{"datum":14.1875},"color":{"field":"day","type":"nominal","legend":null}}},
{"data":{"name":"extHours"},"mark":{"type":"text","align":"center","fontSize":13.5},"encoding":{"text":{"field":"ones"},"x":{"field":"col","type":"quantitative"},"y":{"datum":15.125},"color":{"field":"day","type":"nominal","legend":null}}},
{"data":{"name":"rowLabels"},"mark":{"type":"text","dy":-0.5},"encoding":{"text":{"field":"label"},"x":{"datum":-9.04},"y":{"field":"row","type":"quantitative"}}},
{"data":{"values":[{"label":"Darkness:","row":4},{"label":"Darkness:","row":18.25}]},"mark":{"type":"text","dy":-0.5,"color":"#5BBB22"},"encoding":{"text":{"field":"label"},"x":{"datum":-9.04},"y":{"field":"row","type":"quantitative"}}},
{"data":{"values":[{"t":"Local Time","row":-2.0625},{"t":"Local Time","row":14.1875}]},"mark":{"type":"text","color":"#CCCC00","fontSize":14.5,"dy":0.5},"encoding":{"text":{"field":"t"},"x":{"datum":-9.89},"y":{"field":"row","type":"quantitative"}}},
{"data":{"values":[{"t":"(GMT -4.0)","row":-1.3125},{"t":"(GMT -4.0)","row":14.9375}]},"mark":{"type":"text","color":"#CCCC00","fontSize":8,"fontWeight":"bold","dy":1.5},"encoding":{"text":{"field":"t"},"x":{"datum":-9.79},"y":{"field":"row","type":"quantitative"}}},
{"data":{"values":[{"t":"EXTENDED Forecast. Each block is 3 hours. (A sponsored feature)"}]},"mark":{"type":"text","color":"#F00000"},"encoding":{"text":{"field":"t"},"x":{"datum":-10},"y":{"datum":12.0625}}},
{"data":{"values":[{"t":"© 2026 Attilla Danko","col":14.5},{"t":"forecast: A.Rahill","col":28.64},{"t":"data:","col":41.5}]},"mark":{"type":"text"},"encoding":{"text":{"field":"t"},"x":{"field":"col","type":"quantitative"},"y":{"datum":20.8125}}},
{"data":{"values":[{"logo":"white"}]},"mark":{"type":"rect","color":"#FFFFFF"},"encoding":{"x":{"datum":45.357},"x2":{"datum":57.214},"y":{"datum":20.375},"y2":{"datum":21.3125}}},
{"data":{"values":[{"logo":"flag"}]},"mark":{"type":"rect","color":"#FF0000"},"encoding":{"x":{"datum":45.357},"x2":{"datum":46},"y":{"datum":20.375},"y2":{"datum":21.3125}}},
{"data":{"values":[{"logo":"flag"}]},"mark":{"type":"rect","color":"#FF0000"},"encoding":{"x":{"datum":46.643},"x2":{"datum":47.286},"y":{"datum":20.375},"y2":{"datum":21.3125}}},
{"data":{"values":[{"logo":"leaf"}]},"mark":{"type":"point","filled":true,"opacity":1,"color":"#FF0000","size":64,"shape":"M0,-1L.25,-.5L.6,-.6L.45,0L1,.05L.6,.45L.1,.4L.1,1L-.1,1L-.1,.4L-.6,.45L-1,.05L-.45,0L-.6,-.6L-.25,-.5Z"},"encoding":{"x":{"datum":46.32},"y":{"datum":20.84}}},
{"data":{"values":[{"t":"Environment","col":48.2,"row":20.56},{"t":"Canada","col":48.2,"row":21.06},{"t":"Environnement","col":52.93,"row":20.56},{"t":"Canada","col":52.93,"row":21.06}]},"mark":{"type":"text","font":"DejaVu Sans","fontSize":7.5,"dy":0,"color":"#000000"},"encoding":{"text":{"field":"t"},"x":{"field":"col","type":"quantitative"},"y":{"field":"row","type":"quantitative"}}}
]}
